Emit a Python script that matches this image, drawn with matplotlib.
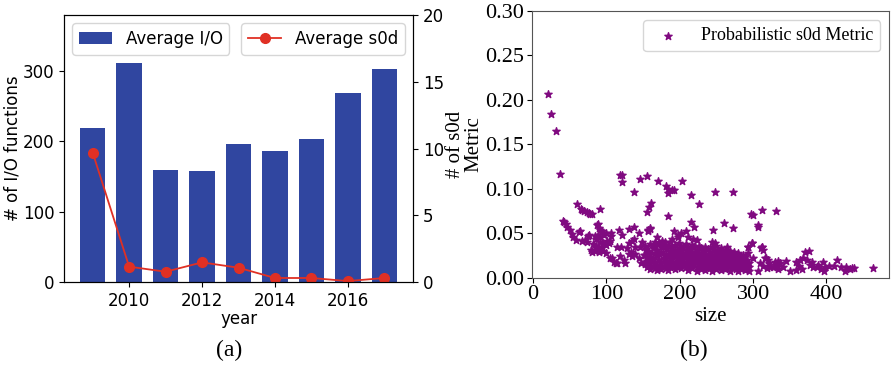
import matplotlib
matplotlib.use("Agg")
import matplotlib.pyplot as plt

# ---- (a) yearly averages ----
years = [2009, 2010, 2011, 2012, 2013, 2014, 2015, 2016, 2017]
avg_io = [219, 312, 160, 158, 196, 186, 204, 269, 303]
avg_s0d = [9.7, 1.15, 0.77, 1.47, 1.07, 0.3, 0.3, 0.07, 0.3]

# ---- (b) probabilistic s0d metric vs. program size ----
sparse_points = [
    (20.4, 0.207), (24.9, 0.184), (31.7, 0.165), (36.9, 0.117),
    (119, 0.115), (122, 0.115), (121, 0.108), (137, 0.096), (145.5, 0.111),
    (155.6, 0.114), (171, 0.109), (181, 0.103), (184.6, 0.0994), (189, 0.099),
    (192.7, 0.099), (183.6, 0.095), (203.6, 0.109), (216, 0.093), (226, 0.083),
    (248, 0.096), (273, 0.096),
    (160.8, 0.0837), (158.5, 0.080), (156, 0.074), (184.6, 0.0697),
    (297, 0.072), (300, 0.0706), (312.5, 0.076), (330.6, 0.0754),
    (306, 0.059), (306.5, 0.0575),
    (60.3, 0.0825), (64.8, 0.077), (67, 0.0765), (70, 0.0755), (73, 0.074),
    (76, 0.0724), (78, 0.0718), (80.5, 0.0713), (92, 0.0769),
    (41.3, 0.064), (42.5, 0.0625), (44.4, 0.060), (47, 0.057), (49.9, 0.054),
    (52.6, 0.049), (54.4, 0.0454), (58, 0.0424), (62.5, 0.0518), (63.5, 0.052),
    (67, 0.0416), (71.5, 0.0424), (75, 0.047), (75.7, 0.048), (73.6, 0.0405),
    (87.5, 0.059), (88.8, 0.060), (89.8, 0.0555), (92, 0.054), (94.3, 0.052),
    (88.7, 0.048), (92, 0.0455), (96.6, 0.048), (99.8, 0.050), (84.2, 0.047),
    (86.4, 0.043), (91, 0.040), (95.5, 0.039), (101, 0.041), (82, 0.038),
    (85.3, 0.036), (88.6, 0.034), (93.4, 0.034), (99, 0.037), (103, 0.039),
    (105.7, 0.0507), (107, 0.047), (104.5, 0.041), (117, 0.054), (121.5, 0.0477),
    (131, 0.055), (137, 0.0574), (144, 0.050), (137, 0.044), (135.6, 0.041),
    (130.6, 0.039), (149, 0.040), (157, 0.0525), (160, 0.055), (120.6, 0.034),
    (114.7, 0.034), (127.6, 0.033), (139.7, 0.034), (146.4, 0.034), (154.7, 0.032),
    (105, 0.022), (108, 0.0218), (110, 0.018), (112.5, 0.017), (114, 0.016),
    (119, 0.024), (124, 0.020), (126, 0.016), (130.6, 0.027), (135, 0.024),
    (133, 0.029), (139.7, 0.027), (144, 0.022), (147.3, 0.016), (151, 0.026),
    (155.6, 0.022), (157.8, 0.029), (160, 0.020), (153, 0.018),
    (78.4, 0.031), (80.7, 0.029), (84.2, 0.030), (89.8, 0.029), (95, 0.030),
    (99, 0.028), (86.4, 0.033),
    (159.6, 0.0555), (157, 0.054), (192.7, 0.0525), (201.8, 0.0507), (208, 0.053),
    (198, 0.048), (198, 0.0455), (189, 0.044), (168.7, 0.0455), (175.5, 0.041),
    (166.4, 0.0405), (180, 0.040), (211.8, 0.0455), (218.6, 0.0436), (223, 0.042),
    (215, 0.063), (220, 0.0574), (260.3, 0.0612), (272, 0.0563), (245.8, 0.0537),
    (243.5, 0.040), (248.2, 0.0387), (264, 0.035), (298, 0.0387), (293.4, 0.035),
    (311.5, 0.035),
    (292.5, 0.035), (299, 0.0386), (311, 0.033), (293, 0.0274), (300, 0.0217),
    (309, 0.016), (318, 0.0217), (322, 0.016), (330, 0.018), (336.5, 0.016),
    (307, 0.008), (334, 0.0094), (350, 0.008), (323, 0.0124), (311.6, 0.0349),
    (313, 0.0312), (370.5, 0.0293), (376, 0.0304), (368.3, 0.0218), (364, 0.020),
    (358.3, 0.018), (372.8, 0.020), (379.6, 0.018), (377.3, 0.0143), (382, 0.0124),
    (386.4, 0.0117), (394.6, 0.018), (393, 0.0094), (396, 0.008), (403, 0.0137),
    (410, 0.0133), (414.5, 0.020), (419.5, 0.0117), (426, 0.0117), (425, 0.007),
    (437, 0.0105), (463.5, 0.0105), (344.7, 0.019), (340.2, 0.0124), (334, 0.019),
    (329.7, 0.0143), (327.4, 0.0117), (320.6, 0.020), (316, 0.022), (313.8, 0.013),
    (359, 0.0087), (333, 0.0124), (318.4, 0.0105), (362, 0.013), (366, 0.010),
    (435, 0.011), (432, 0.010), (388, 0.014), (398, 0.012),
]

# dense band of programs between sizes 150 and 300: size -> metric values
dense_band = {
    152: [0.036, 0.025, 0.015],
    156: [0.030, 0.019, 0.012],
    160: [0.038, 0.027, 0.016, 0.010],
    163: [0.033, 0.022, 0.013],
    166: [0.036, 0.028, 0.018, 0.011],
    169: [0.031, 0.024, 0.014, 0.009],
    172: [0.039, 0.027, 0.020, 0.012],
    175: [0.034, 0.029, 0.017, 0.010],
    178: [0.037, 0.025, 0.021, 0.013],
    181: [0.032, 0.027, 0.018, 0.011],
    184: [0.036, 0.023, 0.015, 0.009],
    187: [0.040, 0.030, 0.026, 0.019, 0.012],
    190: [0.034, 0.028, 0.021, 0.016],
    193: [0.037, 0.031, 0.024, 0.014, 0.010],
    196: [0.029, 0.022, 0.018, 0.012],
    199: [0.039, 0.033, 0.026, 0.020, 0.015],
    202: [0.036, 0.030, 0.023, 0.017, 0.011],
    205: [0.034, 0.027, 0.021, 0.014],
    208: [0.038, 0.031, 0.025, 0.018, 0.012],
    211: [0.035, 0.028, 0.022, 0.016, 0.009],
    214: [0.032, 0.026, 0.019, 0.013],
    217: [0.037, 0.029, 0.023, 0.017, 0.011],
    220: [0.034, 0.027, 0.021, 0.015],
    223: [0.031, 0.025, 0.019, 0.012, 0.008],
    226: [0.036, 0.028, 0.022, 0.016],
    229: [0.033, 0.026, 0.020, 0.014, 0.010],
    232: [0.030, 0.024, 0.018, 0.012],
    235: [0.035, 0.027, 0.021, 0.015, 0.009],
    238: [0.032, 0.025, 0.019, 0.013],
    241: [0.029, 0.023, 0.017, 0.011],
    244: [0.034, 0.026, 0.020, 0.014, 0.008],
    247: [0.031, 0.024, 0.018, 0.012],
    250: [0.036, 0.028, 0.022, 0.016, 0.010],
    253: [0.030, 0.024, 0.019, 0.013],
    256: [0.033, 0.026, 0.021, 0.015, 0.009],
    259: [0.029, 0.023, 0.018, 0.012],
    262: [0.031, 0.025, 0.020, 0.014, 0.010],
    265: [0.028, 0.022, 0.017, 0.011],
    268: [0.030, 0.024, 0.019, 0.013, 0.008],
    271: [0.027, 0.021, 0.016, 0.011],
    274: [0.029, 0.023, 0.018, 0.012],
    277: [0.026, 0.020, 0.015, 0.010],
    280: [0.028, 0.022, 0.017, 0.012, 0.008],
    283: [0.024, 0.019, 0.014, 0.010],
    286: [0.026, 0.021, 0.016, 0.011],
    289: [0.023, 0.018, 0.013, 0.009],
    292: [0.020, 0.015, 0.011],
    295: [0.017, 0.012, 0.008],
}

sizes = [p[0] for p in sparse_points]
metrics = [p[1] for p in sparse_points]
for s, vals in dense_band.items():
    for v in vals:
        sizes.append(s)
        metrics.append(v)

BAR_COLOR = "#3046a0"
LINE_COLOR = "#e03024"
STAR_COLOR = "#800a80"
SERIF = ["Liberation Serif", "DejaVu Serif"]

fig = plt.figure(figsize=(8.93, 3.67), dpi=100)

# ---------- panel (a) ----------
ax1 = fig.add_axes([0.0717, 0.2316, 0.3908, 0.7274])
ax1.bar(years, avg_io, width=0.7, color=BAR_COLOR, label="Average I/O")
ax1.set_ylim(0, 380)
ax1.set_yticks([0, 100, 200, 300])
ax1.set_xticks([2010, 2012, 2014, 2016])
ax1.set_xlabel("year", fontsize=12, labelpad=0)
ax1.set_ylabel("# of I/O functions", fontsize=12, labelpad=1)
ax1.tick_params(labelsize=12)

ax2 = ax1.twinx()
ax2.plot(years, avg_s0d, color=LINE_COLOR, marker="o", markersize=7,
         linewidth=1.3, label="Average s0d")
ax2.set_ylim(0, 20)
ax2.set_yticks([0, 5, 10, 15, 20])
ax2.tick_params(labelsize=12)

ax1.legend(loc="upper left", fontsize=12, handlelength=2.0)
ax2.legend(loc="upper right", fontsize=12, handlelength=2.0)

fig.text(0.257, 0.046, "(a)", family=SERIF, fontsize=17, ha="center", va="center")

# ---------- panel (b) ----------
ax3 = fig.add_axes([0.5954, 0.2433, 0.4005, 0.7267])
ax3.scatter(sizes, metrics, marker="*", s=30, color=STAR_COLOR,
            label="Probabilistic s0d Metric")
ax3.set_ylim(0, 0.30)
ax3.set_xticks([0, 100, 200, 300, 400])
ax3.set_yticks([0.0, 0.05, 0.10, 0.15, 0.20, 0.25, 0.30])
ax3.set_yticklabels(["0.00", "0.05", "0.10", "0.15", "0.20", "0.25", "0.30"])
for lbl in ax3.get_xticklabels() + ax3.get_yticklabels():
    lbl.set_family(SERIF)
    lbl.set_fontsize(16)
ax3.tick_params(pad=2)
ax3.set_xlabel("size", family=SERIF, fontsize=15, labelpad=2)
ax3.set_ylabel("# of s0d\nMetric", family=SERIF, fontsize=15, labelpad=1,
               linespacing=0.95)
for sp in ax3.spines.values():
    sp.set_color("#555555")
leg = ax3.legend(loc="upper right", prop={"family": SERIF, "size": 13},
                 scatterpoints=1, handlelength=2.0)

fig.text(0.777, 0.046, "(b)", family=SERIF, fontsize=17, ha="center", va="center")

fig.savefig("out.png", dpi=100)
